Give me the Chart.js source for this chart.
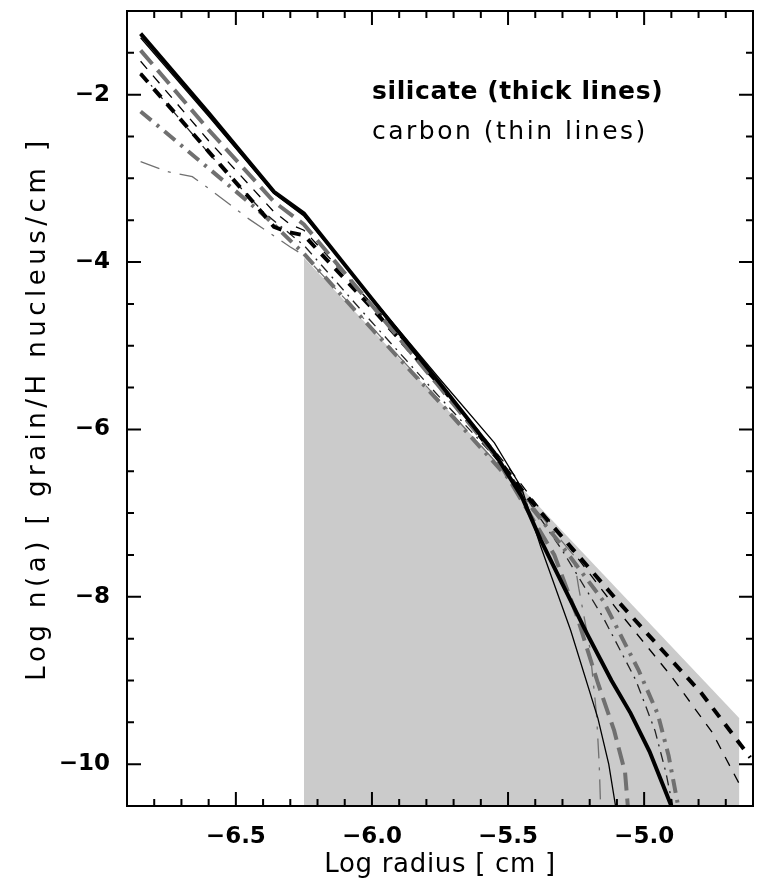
<!DOCTYPE html>
<html>
<head>
<meta charset="utf-8">
<script src="https://cdn.jsdelivr.net/npm/chart.js@4.4.1/dist/chart.umd.min.js"></script>
<style>
  body { margin: 0; background: #fff; }
  #wrap { width: 759px; height: 882px; position: relative; }
</style>
</head>
<body>
<div id="wrap"><canvas id="myChart"></canvas></div>
<script>
const ctx = document.getElementById('myChart');

// axis ticks
var xTicks = [-6.5, -6.0, -5.5, -5.0];
var yTicks = [-10, -8, -6, -4, -2];

// shaded MRN-like band (upper edge)
var shadeX = [-6.25, -4.65];
var shadeY = [-3.95, -9.45];

// silicate (thick lines)
var silSolidX = [-6.85, -6.6, -6.36, -6.25, -6.0, -5.75, -5.55, -5.45, -5.38, -5.3, -5.21, -5.12, -5.05, -4.98, -4.9];
var silSolidY = [-1.27, -2.22, -3.16, -3.42, -4.44, -5.45, -6.28, -6.8, -7.32, -7.85, -8.44, -9.0, -9.39, -9.85, -10.5];

var silLongX = [-6.85, -6.6, -6.36, -6.25, -6.0, -5.75, -5.55, -5.45, -5.33, -5.25, -5.17, -5.11, -5.07, -5.06];
var silLongY = [-1.47, -2.42, -3.28, -3.55, -4.52, -5.5, -6.3, -6.85, -7.5, -8.2, -9.03, -9.6, -10.1, -10.5];

var silDashX = [-6.85, -6.6, -6.44, -6.36, -6.31, -6.25, -6.0, -5.75, -5.43, -5.1, -4.79, -4.61];
var silDashY = [-1.75, -2.68, -3.27, -3.58, -3.64, -3.68, -4.55, -5.47, -6.8, -8.04, -9.15, -9.92];

var silDotX = [-6.85, -6.6, -6.4, -6.25, -6.0, -5.75, -5.5, -5.3, -5.15, -5.02, -4.95, -4.91, -4.875];
var silDotY = [-2.2, -2.88, -3.43, -3.9, -4.8, -5.68, -6.58, -7.4, -8.05, -8.88, -9.4, -9.9, -10.5];

// carbon (thin lines)
var carSolidX = [-6.85, -6.6, -6.36, -6.25, -6.0, -5.75, -5.55, -5.45, -5.38, -5.27, -5.17, -5.13, -5.105];
var carSolidY = [-1.32, -2.26, -3.18, -3.45, -4.43, -5.4, -6.16, -6.7, -7.4, -8.4, -9.45, -10.0, -10.5];

var carDashX = [-6.85, -6.6, -6.36, -6.3, -6.25, -6.0, -5.75, -5.5, -5.3, -5.1, -4.9, -4.75, -4.64];
var carDashY = [-1.6, -2.55, -3.4, -3.55, -3.62, -4.5, -5.45, -6.45, -7.3, -8.15, -8.95, -9.62, -10.3];

var carDotX = [-6.85, -6.6, -6.4, -6.25, -6.0, -5.75, -5.5, -5.3, -5.15, -5.03, -4.96, -4.92, -4.895];
var carDotY = [-1.74, -2.7, -3.4, -3.8, -4.72, -5.62, -6.5, -7.45, -8.25, -9.0, -9.6, -10.1, -10.5];

var carLongX = [-6.85, -6.75, -6.66, -6.6, -6.45, -6.3, -6.25, -6.0, -5.75, -5.5, -5.35, -5.26, -5.24, -5.2, -5.175, -5.165, -5.16];
var carLongY = [-2.8, -2.92, -2.98, -3.12, -3.49, -3.82, -3.92, -4.78, -5.66, -6.55, -7.15, -7.5, -7.9, -8.6, -9.4, -10.0, -10.5];

function pts(xs, ys) {
    return xs.map((v, i) => ({ x: v, y: ys[i] }));
}

function minus(v) {
    return (v < 0 ? '\u2212' : '') + Math.abs(v);
}

// wider letter spacing for the axis titles (IDL-like font)
function spacedTitle(scale, spacing) {
    if (scale._spaced) return;
    const orig = scale.drawTitle;
    scale.drawTitle = function () {
        this.ctx.save();
        this.ctx.letterSpacing = spacing;
        orig.call(this);
        this.ctx.restore();
    };
    scale._spaced = true;
}

const frame = {
    id: 'frame',
    beforeDraw(chart) {
        spacedTitle(chart.scales.y, '4.5px');
        spacedTitle(chart.scales.x, '0.7px');
    },
    afterDraw(chart) {
        const c = chart.ctx;
        const a = chart.chartArea;
        const sx = chart.scales.x;
        const sy = chart.scales.y;
        c.save();
        c.strokeStyle = '#000';
        c.lineWidth = 2;
        c.strokeRect(a.left, a.top, a.right - a.left, a.bottom - a.top);
        c.beginPath();
        for (let i = -68; i <= -47; i++) {
            const v = i / 10;
            const len = (i % 5 === 0) ? 14 : 7;
            const px = sx.getPixelForValue(v);
            c.moveTo(px, a.bottom); c.lineTo(px, a.bottom - len);
            c.moveTo(px, a.top); c.lineTo(px, a.top + len);
        }
        for (let i = -20; i <= -3; i++) {
            const v = i / 2;
            const len = (i % 4 === 0) ? 14 : 7;
            const py = sy.getPixelForValue(v);
            c.moveTo(a.left, py); c.lineTo(a.left + len, py);
            c.moveTo(a.right, py); c.lineTo(a.right - len, py);
        }
        c.stroke();

        c.fillStyle = '#000';
        c.textBaseline = 'alphabetic';
        c.font = 'bold 25px "DejaVu Sans"';
        c.letterSpacing = '0.6px';
        c.fillText('silicate (thick lines)', 372, 99);
        c.font = '25px "DejaVu Sans"';
        c.letterSpacing = '2.5px';
        c.fillText('carbon (thin lines)', 372, 139);
        c.restore();
    }
};

const GRAY = '#707070';

new Chart(ctx, {
    type: 'line',
    data: {
        datasets: [
            { label: 'silicate solid', data: pts(silSolidX, silSolidY), borderColor: '#000', borderWidth: 4 },
            { label: 'silicate long dash', data: pts(silLongX, silLongY), borderColor: GRAY, borderWidth: 4, borderDash: [18, 8] },
            { label: 'silicate dash', data: pts(silDashX, silDashY), borderColor: '#000', borderWidth: 4, borderDash: [11, 9] },
            { label: 'silicate dash dot', data: pts(silDotX, silDotY), borderColor: GRAY, borderWidth: 4, borderDash: [14, 7, 3, 7] },
            { label: 'carbon solid', data: pts(carSolidX, carSolidY), borderColor: '#000', borderWidth: 1.3 },
            { label: 'carbon dash', data: pts(carDashX, carDashY), borderColor: '#000', borderWidth: 1.3, borderDash: [10, 9] },
            { label: 'carbon dash dot', data: pts(carDotX, carDotY), borderColor: '#222', borderWidth: 1.3, borderDash: [10, 6, 2, 6] },
            { label: 'carbon long dash', data: pts(carLongX, carLongY), borderColor: GRAY, borderWidth: 1.3, borderDash: [20, 9, 3, 9] },
            { label: 'shade', data: pts(shadeX, shadeY), borderWidth: 0, borderColor: 'rgba(0,0,0,0)', backgroundColor: '#cbcbcb', fill: 'start', order: 10 }
        ]
    },
    options: {
        responsive: true,
        maintainAspectRatio: false,
        animation: false,
        devicePixelRatio: 1,
        layout: { padding: { top: 11, right: 6, left: 0, bottom: 0 } },
        elements: { point: { radius: 0 }, line: { tension: 0 } },
        plugins: {
            legend: { display: false },
            tooltip: { enabled: false }
        },
        scales: {
            x: {
                type: 'linear',
                min: -6.9,
                max: -4.6,
                afterFit: (s) => { s.height = 76; s.paddingLeft = 0; s.paddingRight = 0; },
                afterBuildTicks: (s) => { s.ticks = xTicks.map(v => ({ value: v })); },
                grid: { display: false },
                border: { display: false },
                ticks: {
                    color: '#000',
                    padding: 9,
                    maxRotation: 0,
                    font: { family: 'DejaVu Sans', size: 23, weight: 'bold' },
                    callback: (v) => (v < 0 ? '\u2212' : '') + Math.abs(v).toFixed(1)
                },
                title: {
                    display: true,
                    text: 'Log radius [ cm ]',
                    color: '#000',
                    font: { family: 'DejaVu Sans', size: 26 },
                    padding: { top: 0, bottom: 1 }
                }
            },
            y: {
                type: 'linear',
                min: -10.5,
                max: -1.0,
                afterFit: (s) => { s.width = 127; s.paddingTop = 0; s.paddingBottom = 0; },
                afterBuildTicks: (s) => { s.ticks = yTicks.map(v => ({ value: v })); },
                grid: { display: false },
                border: { display: false },
                ticks: {
                    color: '#000',
                    padding: 9,
                    font: { family: 'DejaVu Sans', size: 23, weight: 'bold' },
                    callback: (v) => minus(v)
                },
                title: {
                    display: true,
                    text: 'Log n(a) [ grain/H nucleus/cm ]',
                    color: '#000',
                    font: { family: 'DejaVu Sans', size: 26 },
                    padding: { top: 23, bottom: 0 }
                }
            }
        }
    },
    plugins: [frame]
});
</script>
</body>
</html>
